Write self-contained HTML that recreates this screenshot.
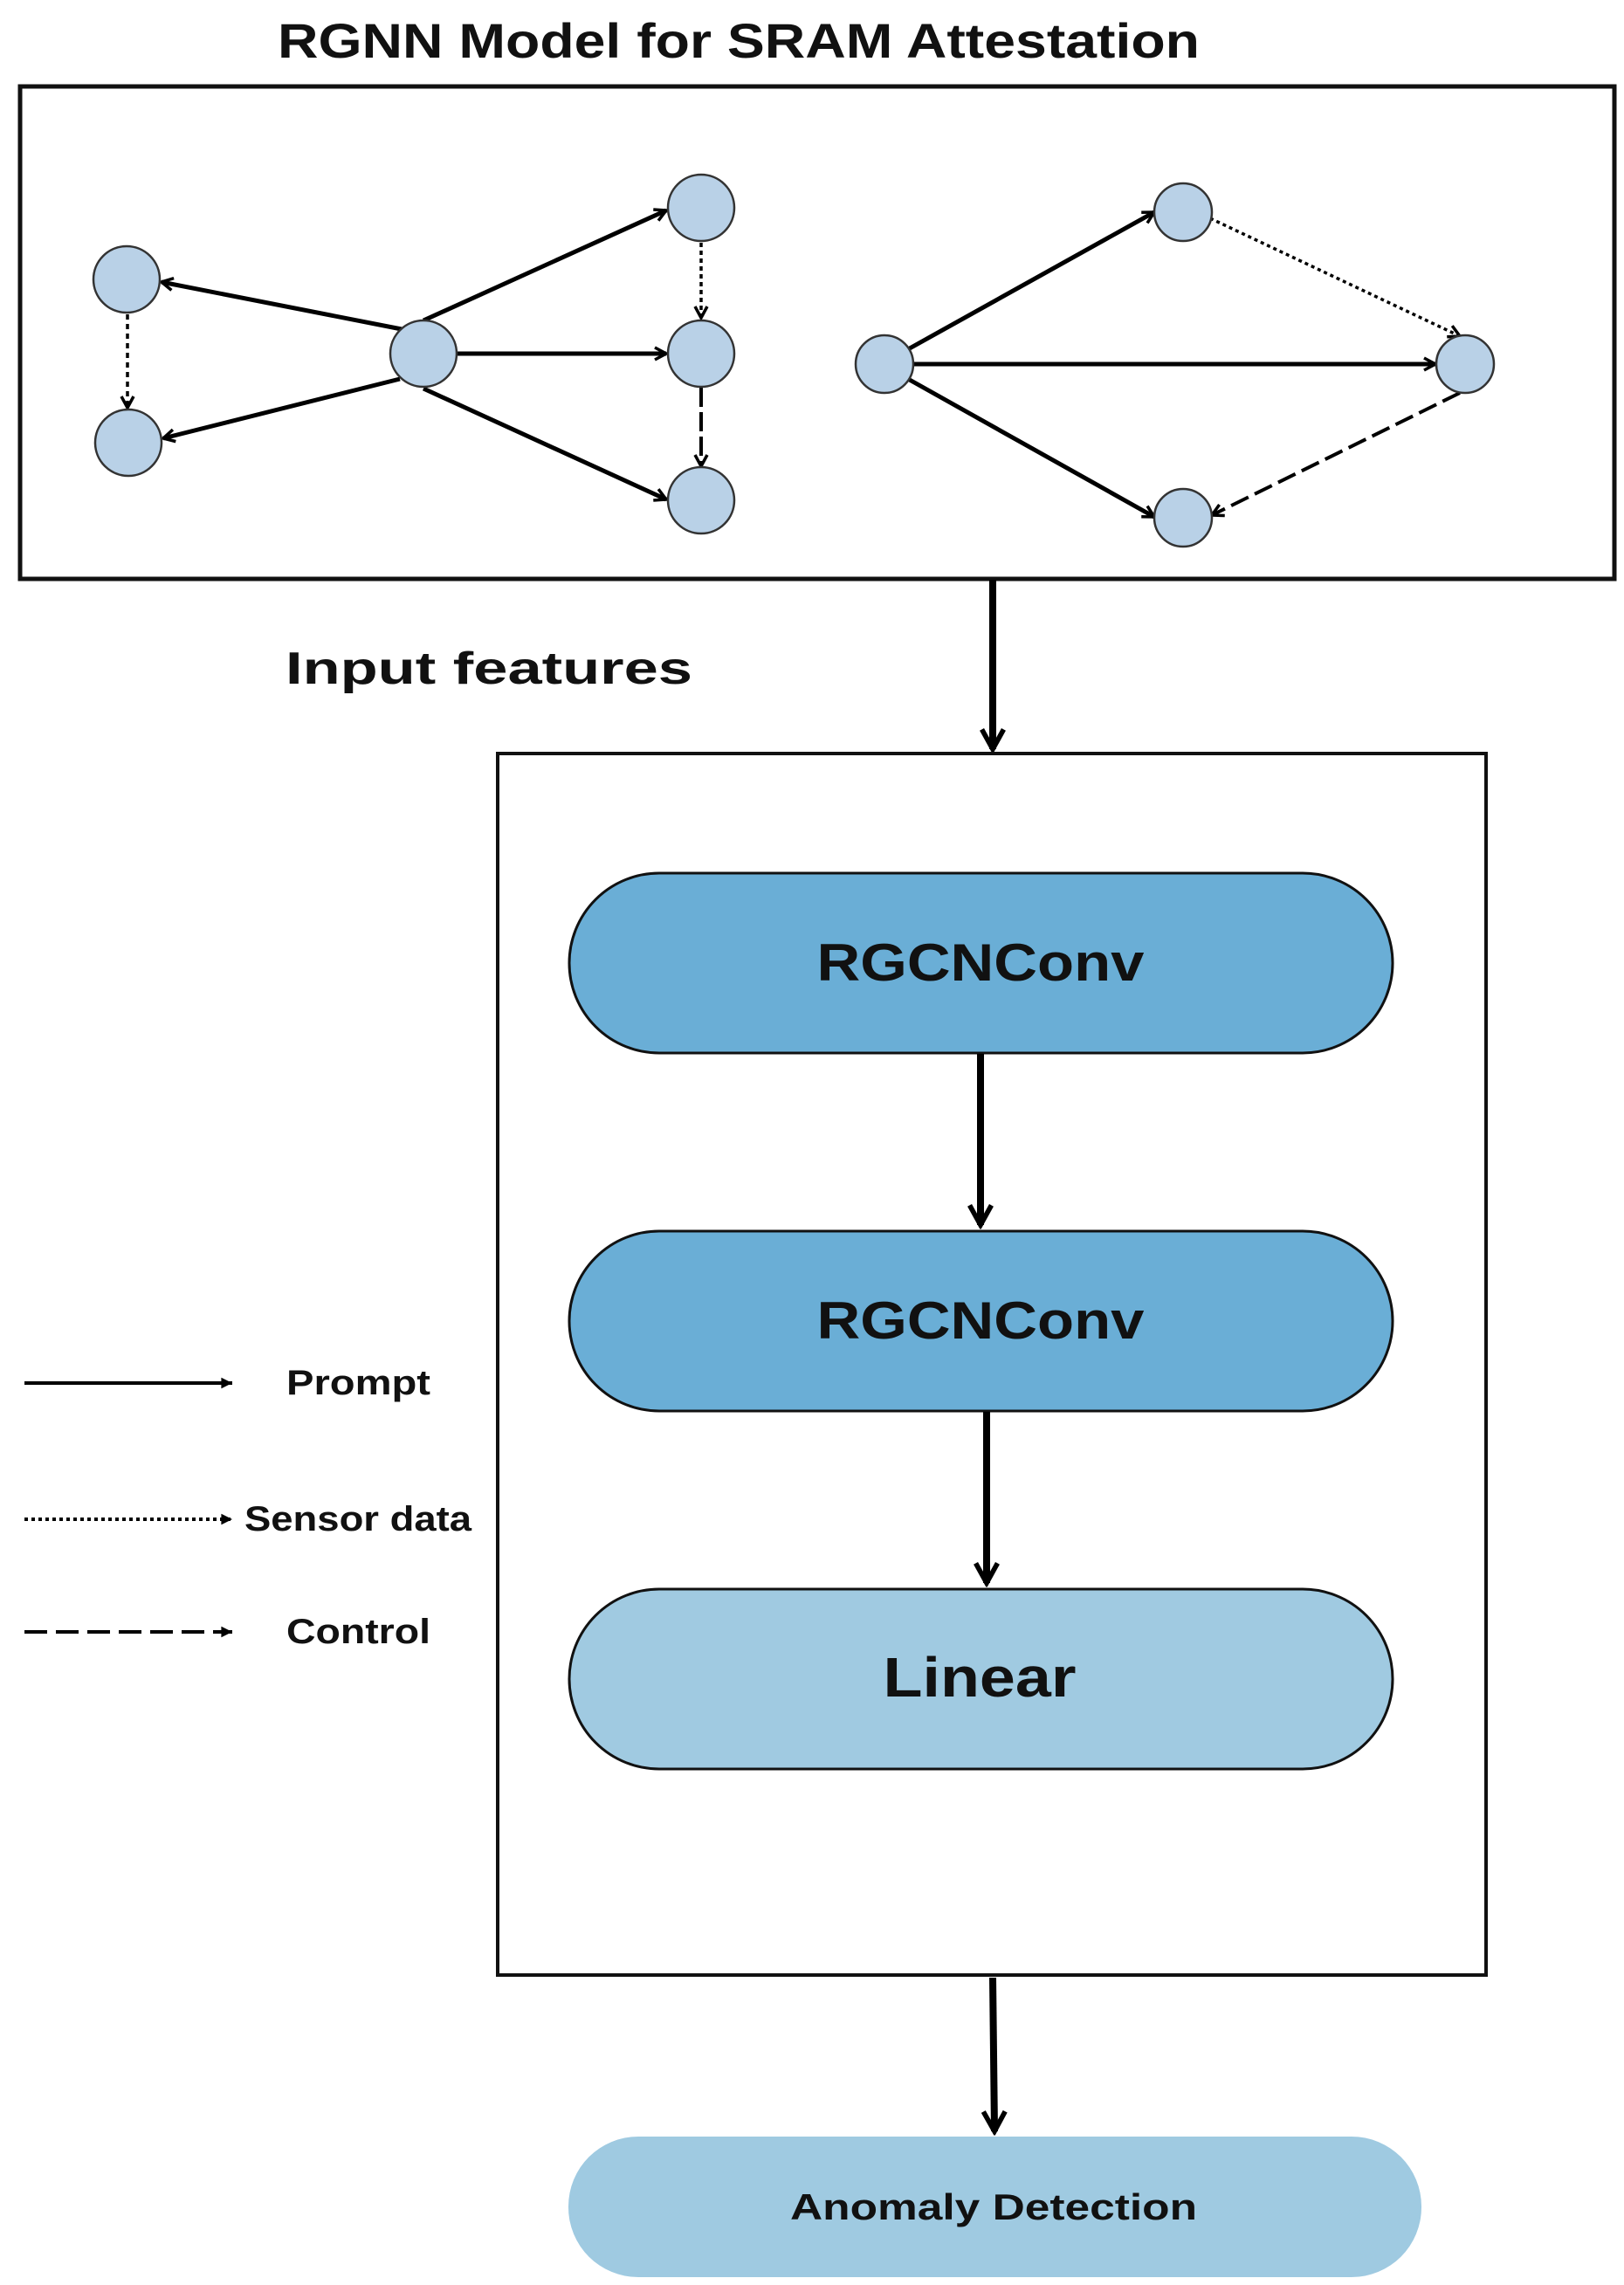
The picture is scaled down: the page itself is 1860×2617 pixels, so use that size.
<!DOCTYPE html>
<html><head><meta charset="utf-8"><style>
html,body{margin:0;padding:0;background:#fff;width:1860px;height:2617px;overflow:hidden}
svg{display:block}
text{font-family:"Liberation Sans",sans-serif;font-weight:bold;fill:#111}
</style></head><body>
<svg width="1860" height="2617" viewBox="0 0 1860 2617" xmlns="http://www.w3.org/2000/svg">
<defs>
<marker id="a" viewBox="0 0 20 20" refX="17" refY="10" markerWidth="20" markerHeight="20" markerUnits="userSpaceOnUse" orient="auto">
<path d="M4,3 L17,10 L4,17" fill="none" stroke="#000" stroke-width="3.5"/></marker>
<marker id="b" viewBox="0 0 30 30" refX="26" refY="15" markerWidth="34" markerHeight="34" markerUnits="userSpaceOnUse" orient="auto">
<path d="M6,4 L26,15 L6,26" fill="none" stroke="#000" stroke-width="5"/></marker>
<marker id="c" viewBox="0 0 20 20" refX="18" refY="10" markerWidth="18" markerHeight="18" markerUnits="userSpaceOnUse" orient="auto">
<path d="M4,3 L18,10 L4,17 Z" fill="#000"/></marker>
</defs>

<text x="846" y="66" font-size="56" text-anchor="middle" textLength="1056" lengthAdjust="spacingAndGlyphs">RGNN Model for SRAM Attestation</text>

<rect x="23" y="99" width="1826" height="564" fill="none" stroke="#111" stroke-width="5"/>

<g stroke="#000" stroke-width="5" fill="none">
<!-- left graph -->
<line x1="460" y1="377" x2="185" y2="323" marker-end="url(#a)"/>
<line x1="458" y1="434" x2="187" y2="502" marker-end="url(#a)"/>
<line x1="485" y1="367" x2="763" y2="241" marker-end="url(#a)"/>
<line x1="523" y1="405" x2="763" y2="405" marker-end="url(#a)"/>
<line x1="485" y1="445" x2="763" y2="572" marker-end="url(#a)"/>
<line x1="146" y1="360" x2="146" y2="467" stroke-width="3.5" stroke-dasharray="6,5" marker-end="url(#a)"/>
<line x1="803" y1="278" x2="803" y2="364" stroke-width="3.5" stroke-dasharray="5,4" marker-end="url(#a)"/>
<line x1="803" y1="444" x2="803" y2="534" stroke-width="4" stroke-dasharray="22,6" marker-end="url(#a)"/>
<!-- right graph -->
<line x1="1040" y1="400" x2="1322" y2="243" marker-end="url(#a)"/>
<line x1="1046" y1="417" x2="1644" y2="417" marker-end="url(#a)"/>
<line x1="1040" y1="434" x2="1322" y2="592" marker-end="url(#a)"/>
<line x1="1386" y1="250" x2="1672" y2="385" stroke-width="3.5" stroke-dasharray="4,4" marker-end="url(#a)"/>
<line x1="1672" y1="450" x2="1388" y2="590" stroke-width="4" stroke-dasharray="22,8" marker-end="url(#a)"/>
</g>

<g fill="#b9d1e7" stroke="#333" stroke-width="2.5">
<circle cx="145" cy="320" r="38"/>
<circle cx="147" cy="507" r="38"/>
<circle cx="485" cy="405" r="38"/>
<circle cx="803" cy="238" r="38"/>
<circle cx="803" cy="405" r="38"/>
<circle cx="803" cy="573" r="38"/>
<circle cx="1013" cy="417" r="33"/>
<circle cx="1355" cy="243" r="33"/>
<circle cx="1678" cy="417" r="33"/>
<circle cx="1355" cy="593" r="33"/>
</g>

<text x="327" y="783" font-size="52" textLength="466" lengthAdjust="spacingAndGlyphs">Input features</text>

<line x1="1137" y1="664" x2="1137" y2="858" stroke="#000" stroke-width="8" marker-end="url(#b)"/>

<rect x="570" y="863" width="1132" height="1399" fill="none" stroke="#111" stroke-width="4"/>

<rect x="652" y="1000" width="943" height="206" rx="103" fill="#6aaed6" stroke="#111" stroke-width="3"/>
<text x="1123" y="1123" font-size="60" text-anchor="middle" textLength="375" lengthAdjust="spacingAndGlyphs">RGCNConv</text>
<line x1="1123" y1="1207" x2="1123" y2="1403" stroke="#000" stroke-width="8" marker-end="url(#b)"/>

<rect x="652" y="1410" width="943" height="206" rx="103" fill="#6aaed6" stroke="#111" stroke-width="3"/>
<text x="1123" y="1533" font-size="60" text-anchor="middle" textLength="375" lengthAdjust="spacingAndGlyphs">RGCNConv</text>
<line x1="1130" y1="1617" x2="1130" y2="1813" stroke="#000" stroke-width="8" marker-end="url(#b)"/>

<rect x="652" y="1820" width="943" height="206" rx="103" fill="#a0cae1" stroke="#111" stroke-width="3"/>
<text x="1122" y="1943" font-size="64" text-anchor="middle" textLength="221" lengthAdjust="spacingAndGlyphs">Linear</text>

<line x1="1137" y1="2265" x2="1139" y2="2441" stroke="#000" stroke-width="8" marker-end="url(#b)"/>

<rect x="651" y="2447" width="977" height="161" rx="80" fill="#9fcae1"/>
<text x="1138" y="2542" font-size="42" text-anchor="middle" textLength="466" lengthAdjust="spacingAndGlyphs">Anomaly Detection</text>

<!-- legend -->
<line x1="28" y1="1584" x2="266" y2="1584" stroke="#000" stroke-width="4" marker-end="url(#c)"/>
<text x="328" y="1597" font-size="40" textLength="165" lengthAdjust="spacingAndGlyphs">Prompt</text>
<line x1="28" y1="1740" x2="266" y2="1740" stroke="#000" stroke-width="4" stroke-dasharray="4,4" marker-end="url(#c)"/>
<text x="280" y="1753" font-size="40" textLength="260" lengthAdjust="spacingAndGlyphs">Sensor data</text>
<line x1="28" y1="1869" x2="266" y2="1869" stroke="#000" stroke-width="4" stroke-dasharray="26,10" marker-end="url(#c)"/>
<text x="328" y="1882" font-size="40" textLength="165" lengthAdjust="spacingAndGlyphs">Control</text>
</svg>
</body></html>
